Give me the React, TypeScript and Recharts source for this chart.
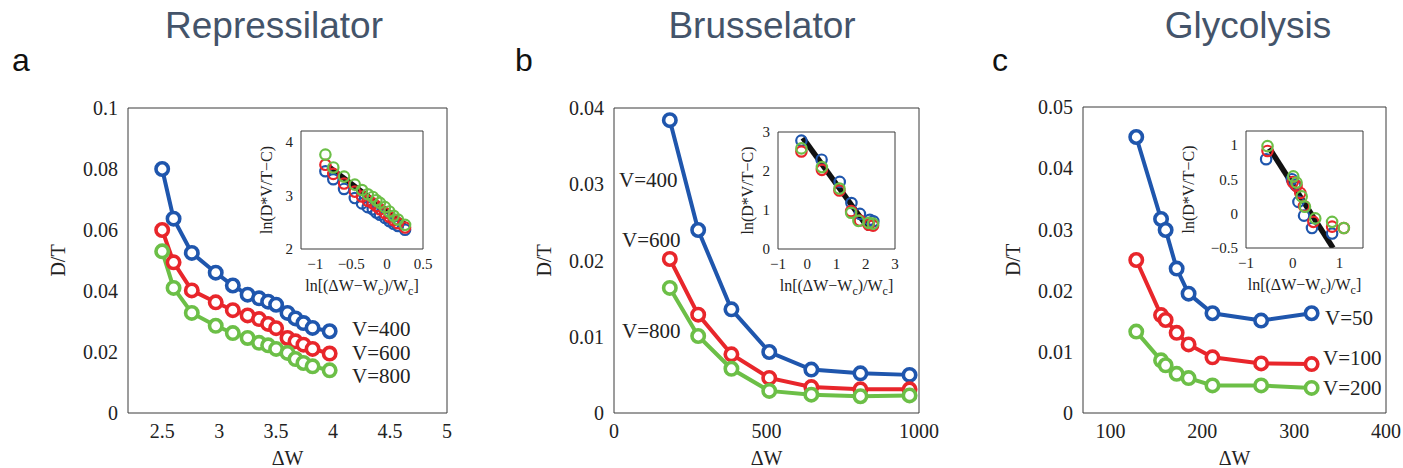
import React from "react";
import { ComposedChart, Line, Scatter, XAxis, YAxis, Label } from "recharts";

const BLUE = "#1f56ad";
const RED = "#e8262b";
const GREEN = "#6cbf47";
const AXIS = "#3a3a3a";
const SERIF = "'Liberation Serif', 'Times New Roman', serif";
const SANS = "'Liberation Sans', Arial, sans-serif";

// a: Repressilator
const repDeltaW = [2.5, 2.6, 2.76, 2.97, 3.12, 3.25, 3.35, 3.43, 3.5, 3.6, 3.67, 3.74, 3.82, 3.97];
const repV400 = [0.08, 0.0637, 0.0525, 0.046, 0.0418, 0.0388, 0.0376, 0.0365, 0.0355, 0.0328, 0.031, 0.0295, 0.0279, 0.0268];
const repV600 = [0.06, 0.0494, 0.0402, 0.0363, 0.0337, 0.032, 0.0308, 0.0292, 0.0278, 0.0246, 0.0235, 0.0224, 0.021, 0.0195];
const repV800 = [0.053, 0.041, 0.0328, 0.0286, 0.0262, 0.0246, 0.023, 0.0222, 0.021, 0.0197, 0.0177, 0.0164, 0.0153, 0.014];
const repLnW = [-0.86, -0.75, -0.6, -0.45, -0.35, -0.27, -0.2, -0.15, -0.1, -0.03, 0.03, 0.09, 0.15, 0.25];
const repLn400 = [3.45, 3.3, 3.12, 2.95, 2.85, 2.78, 2.74, 2.68, 2.64, 2.58, 2.52, 2.47, 2.43, 2.36];
const repLn600 = [3.57, 3.4, 3.22, 3.07, 2.98, 2.9, 2.85, 2.8, 2.74, 2.67, 2.6, 2.54, 2.48, 2.4];
const repLn800 = [3.76, 3.52, 3.35, 3.2, 3.1, 3.02, 2.97, 2.91, 2.86, 2.78, 2.7, 2.62, 2.55, 2.45];
const repFitX = [-0.82, 0.25];
const repFitY = [3.54, 2.46];

// b: Brusselator
const bruDeltaW = [183, 276, 385, 509, 647, 808, 969];
const bruV400 = [0.0384, 0.024, 0.0136, 0.008, 0.0057, 0.0052, 0.005];
const bruV600 = [0.0202, 0.0129, 0.0077, 0.0046, 0.0034, 0.0031, 0.0031];
const bruV800 = [0.0164, 0.0101, 0.0058, 0.0029, 0.0024, 0.0022, 0.0023];
const bruLnW400 = [-0.2, 0.49, 1.11, 1.51, 1.8, 2.14, 2.26];
const bruLnW600 = [-0.2, 0.5, 1.1, 1.5, 1.8, 2.1, 2.25];
const bruLnW800 = [-0.2, 0.5, 1.1, 1.5, 1.75, 2.1, 2.25];
const bruLn400 = [2.78, 2.29, 1.72, 1.18, 0.9, 0.75, 0.71];
const bruLn600 = [2.5, 2.03, 1.5, 0.97, 0.73, 0.62, 0.6];
const bruLn800 = [2.58, 2.1, 1.55, 0.93, 0.72, 0.67, 0.65];
const bruFitX = [-0.15, 2.12];
const bruFitY = [2.85, 0.5];

// c: Glycolysis
const glyDeltaW = [128, 155, 160, 172, 185, 211, 264, 319];
const glyV50 = [0.0451, 0.0317, 0.0299, 0.0236, 0.0195, 0.0163, 0.0151, 0.0163];
const glyV100 = [0.025, 0.016, 0.0152, 0.0131, 0.0112, 0.0091, 0.0081, 0.008];
const glyV200 = [0.0133, 0.0086, 0.0078, 0.0064, 0.0057, 0.0045, 0.0045, 0.0041];
const glyLnW50 = [-0.57, -0.02, 0.05, 0.12, 0.24, 0.41, 0.84];
const glyLn50 = [0.79, 0.5, 0.42, 0.17, -0.03, -0.21, -0.29];
const glyLnW100 = [-0.54, 0, 0.08, 0.16, 0.24, 0.44, 0.84, 1.09];
const glyLn100 = [0.91, 0.46, 0.4, 0.3, 0.11, -0.12, -0.19, -0.21];
const glyLnW200 = [-0.54, 0.01, 0.08, 0.19, 0.26, 0.48, 0.84, 1.09];
const glyLn200 = [0.98, 0.54, 0.45, 0.25, 0.1, -0.07, -0.12, -0.21];
const glyFitX = [-0.5, 0.86];
const glyFitY = [0.95, -0.5];

const titles = ["Repressilator", "Brusselator", "Glycolysis"];
const panelLetters = ["a", "b", "c"];

type Pt = { x: number; y: number };
type Series = { xs: number[]; ys: number[]; color: string };
type Box = { left: number; top: number; width: number; height: number };

const zip = (xs: number[], ys: number[]): Pt[] => xs.map((x, i) => ({ x, y: ys[i] }));
const minus = (v: number) => String(v).replace("-", "\u2212");

// force the serif face on every axis text (overrides presentation attributes)
const css = `
.plot text { font-family: 'Liberation Serif', 'Times New Roman', serif !important; fill: #222; }
.main-plot .recharts-cartesian-axis-tick text { font-size: 20px; }
.inset-plot .recharts-cartesian-axis-tick text { font-size: 15px; }
`;

// box frame with inward ticks on all four sides (MATLAB style)
const frameAxes = (xDomain: number[], xTicks: number[], yDomain: number[], yTicks: number[], tick: number) => [
  <XAxis key="xb" xAxisId="xb" orientation="bottom" mirror type="number" domain={xDomain} allowDataOverflow ticks={xTicks} interval={0} tick={false} tickSize={tick} axisLine={false} tickLine={{ stroke: AXIS }} />,
  <XAxis key="xt" xAxisId="xt" orientation="top" mirror type="number" domain={xDomain} allowDataOverflow ticks={xTicks} interval={0} tick={false} tickSize={tick} axisLine={{ stroke: AXIS }} tickLine={{ stroke: AXIS }} />,
  <YAxis key="yl" yAxisId="yl" orientation="left" mirror type="number" domain={yDomain} allowDataOverflow ticks={yTicks} interval={0} tick={false} tickSize={tick} axisLine={false} tickLine={{ stroke: AXIS }} />,
  <YAxis key="yr" yAxisId="yr" orientation="right" mirror type="number" domain={yDomain} allowDataOverflow ticks={yTicks} interval={0} tick={false} tickSize={tick} axisLine={{ stroke: AXIS }} tickLine={{ stroke: AXIS }} />,
];

const MainPlot = ({ box, xDomain, xTicks, yDomain, yTicks, series }: {
  box: Box; xDomain: number[]; xTicks: number[]; yDomain: number[]; yTicks: number[]; series: Series[];
}) => {
  const padL = 80, padT = 14, padR = 30, padB = 55;
  const tickStyle = { fill: "#222", fontSize: 20, fontFamily: SERIF };
  return (
    <div className="plot main-plot" style={{ position: "absolute", left: box.left - padL, top: box.top - padT, fontFamily: SERIF }}>
      <ComposedChart width={box.width + padL + padR} height={box.height + padT + padB} margin={{ top: padT, right: padR, bottom: 0, left: 0 }}>
        <XAxis xAxisId="x" type="number" dataKey="x" domain={xDomain} allowDataOverflow ticks={xTicks} interval={0} height={padB} tickLine={false} tickSize={0} tickMargin={11} axisLine={{ stroke: AXIS }} tick={tickStyle}>
          <Label content={(p: any) => (
            <text x={p.viewBox.x + p.viewBox.width / 2} y={p.viewBox.y + 52} textAnchor="middle" fontSize={20} fontFamily={SERIF} fill="#222">ΔW</text>
          )} />
        </XAxis>
        <YAxis yAxisId="y" type="number" dataKey="y" domain={yDomain} allowDataOverflow ticks={yTicks} interval={0} width={padL} tickLine={false} tickSize={0} tickMargin={10} axisLine={{ stroke: AXIS }} tick={tickStyle}>
          <Label content={(p: any) => {
            const cx = p.viewBox.x + p.viewBox.width - 70;
            const cy = p.viewBox.y + p.viewBox.height / 2;
            return (
              <text x={cx} y={cy} transform={`rotate(-90, ${cx}, ${cy})`} textAnchor="middle" dominantBaseline="central" fontSize={20} fontFamily={SERIF} fill="#222">D/T</text>
            );
          }} />
        </YAxis>
        {frameAxes(xDomain, xTicks, yDomain, yTicks, 5)}
        {series.map((s, i) => (
          <Line
            key={i}
            xAxisId="x"
            yAxisId="y"
            data={zip(s.xs, s.ys)}
            dataKey="y"
            type="linear"
            stroke={s.color}
            strokeWidth={4}
            isAnimationActive={false}
            dot={(p: any) => <circle key={`d${i}-${p.index}`} cx={p.cx} cy={p.cy} r={6.2} fill="#fff" stroke={s.color} strokeWidth={3.6} />}
          />
        ))}
      </ComposedChart>
    </div>
  );
};

const InsetPlot = ({ box, xDomain, xTicks, yDomain, yTicks, series, fitX, fitY, yLabelDist }: {
  box: Box; xDomain: number[]; xTicks: number[]; yDomain: number[]; yTicks: number[];
  series: Series[]; fitX: number[]; fitY: number[]; yLabelDist: number;
}) => {
  const padL = 70, padT = 12, padR = 14, padB = 50;
  const tickStyle = { fill: "#222", fontSize: 15, fontFamily: SERIF };
  return (
    <div className="plot inset-plot" style={{ position: "absolute", left: box.left - padL, top: box.top - padT, fontFamily: SERIF }}>
      <div style={{ position: "absolute", left: padL, top: padT, width: box.width, height: box.height, background: "#fff" }} />
      <ComposedChart width={box.width + padL + padR} height={box.height + padT + padB} margin={{ top: padT, right: padR, bottom: 0, left: 0 }}>
        <XAxis xAxisId="x" type="number" dataKey="x" domain={xDomain} allowDataOverflow ticks={xTicks} interval={0} height={padB} tickLine={false} tickSize={0} tickMargin={9} axisLine={{ stroke: AXIS }} tick={tickStyle} tickFormatter={minus}>
          <Label content={(p: any) => (
            <text x={p.viewBox.x + p.viewBox.width / 2} y={p.viewBox.y + 42} textAnchor="middle" fontSize={16} fontFamily={SERIF} fill="#222">
              ln[(ΔW−W<tspan dy={4} fontSize={12}>c</tspan><tspan dy={-4}>)/W</tspan><tspan dy={4} fontSize={12}>c</tspan><tspan dy={-4}>]</tspan>
            </text>
          )} />
        </XAxis>
        <YAxis yAxisId="y" type="number" dataKey="y" domain={yDomain} allowDataOverflow ticks={yTicks} interval={0} width={padL} tickLine={false} tickSize={0} tickMargin={8} axisLine={{ stroke: AXIS }} tick={tickStyle} tickFormatter={minus}>
          <Label content={(p: any) => {
            const cx = p.viewBox.x + p.viewBox.width - yLabelDist;
            const cy = p.viewBox.y + p.viewBox.height / 2;
            return (
              <text x={cx} y={cy} transform={`rotate(-90, ${cx}, ${cy})`} textAnchor="middle" dominantBaseline="central" fontSize={16} fontFamily={SERIF} fill="#222">ln(D*V/T−C)</text>
            );
          }} />
        </YAxis>
        {frameAxes(xDomain, xTicks, yDomain, yTicks, 3)}
        {series.map((s, i) => (
          <Scatter
            key={i}
            xAxisId="x"
            yAxisId="y"
            data={zip(s.xs, s.ys)}
            isAnimationActive={false}
            shape={(p: any) => <circle cx={p.cx} cy={p.cy} r={5.2} fill="none" stroke={s.color} strokeWidth={2.2} />}
          />
        ))}
        <Line xAxisId="x" yAxisId="y" data={zip(fitX, fitY)} dataKey="y" type="linear" stroke="#111" strokeWidth={5.5} dot={false} isAnimationActive={false} />
      </ComposedChart>
    </div>
  );
};

export default function App() {
  return (
    <div style={{ position: "absolute", left: 0, top: 0, width: 1403, height: 468, background: "#fff", overflow: "hidden" }}>
      <style>{css}</style>
      <MainPlot
        box={{ left: 128, top: 108, width: 319, height: 305 }}
        xDomain={[2.2, 5]} xTicks={[2.5, 3, 3.5, 4, 4.5, 5]}
        yDomain={[0, 0.1]} yTicks={[0, 0.02, 0.04, 0.06, 0.08, 0.1]}
        series={[
          { xs: repDeltaW, ys: repV400, color: BLUE },
          { xs: repDeltaW, ys: repV600, color: RED },
          { xs: repDeltaW, ys: repV800, color: GREEN },
        ]}
      />
      <InsetPlot
        box={{ left: 301, top: 131, width: 122, height: 118 }}
        xDomain={[-1.2, 0.5]} xTicks={[-1, -0.5, 0, 0.5]}
        yDomain={[2, 4.2]} yTicks={[2, 3, 4]}
        series={[
          { xs: repLnW, ys: repLn400, color: BLUE },
          { xs: repLnW, ys: repLn600, color: RED },
          { xs: repLnW, ys: repLn800, color: GREEN },
        ]}
        fitX={repFitX} fitY={repFitY} yLabelDist={35}
      />

      <MainPlot
        box={{ left: 614, top: 108, width: 305, height: 305 }}
        xDomain={[0, 1000]} xTicks={[0, 500, 1000]}
        yDomain={[0, 0.04]} yTicks={[0, 0.01, 0.02, 0.03, 0.04]}
        series={[
          { xs: bruDeltaW, ys: bruV400, color: BLUE },
          { xs: bruDeltaW, ys: bruV600, color: RED },
          { xs: bruDeltaW, ys: bruV800, color: GREEN },
        ]}
      />
      <InsetPlot
        box={{ left: 778, top: 132, width: 117, height: 117 }}
        xDomain={[-1, 3]} xTicks={[-1, 0, 1, 2, 3]}
        yDomain={[0, 3]} yTicks={[0, 1, 2, 3]}
        series={[
          { xs: bruLnW400, ys: bruLn400, color: BLUE },
          { xs: bruLnW600, ys: bruLn600, color: RED },
          { xs: bruLnW800, ys: bruLn800, color: GREEN },
        ]}
        fitX={bruFitX} fitY={bruFitY} yLabelDist={31}
      />

      <MainPlot
        box={{ left: 1083, top: 107, width: 303, height: 306 }}
        xDomain={[70, 400]} xTicks={[100, 200, 300, 400]}
        yDomain={[0, 0.05]} yTicks={[0, 0.01, 0.02, 0.03, 0.04, 0.05]}
        series={[
          { xs: glyDeltaW, ys: glyV50, color: BLUE },
          { xs: glyDeltaW, ys: glyV100, color: RED },
          { xs: glyDeltaW, ys: glyV200, color: GREEN },
        ]}
      />
      <InsetPlot
        box={{ left: 1246, top: 131, width: 117, height: 117 }}
        xDomain={[-1, 1.5]} xTicks={[-1, 0, 1]}
        yDomain={[-0.5, 1.2]} yTicks={[-0.5, 0, 0.5, 1]}
        series={[
          { xs: glyLnW50, ys: glyLn50, color: BLUE },
          { xs: glyLnW100, ys: glyLn100, color: RED },
          { xs: glyLnW200, ys: glyLn200, color: GREEN },
        ]}
        fitX={glyFitX} fitY={glyFitY} yLabelDist={58}
      />

      <svg width={1403} height={468} style={{ position: "absolute", left: 0, top: 0, pointerEvents: "none" }}>
        <g fontFamily={SANS} fill="#44546a" fontSize={37} textAnchor="middle">
          <text x={274} y={38}>{titles[0]}</text>
          <text x={762} y={38}>{titles[1]}</text>
          <text x={1248} y={38}>{titles[2]}</text>
        </g>
        <g fontFamily={SANS} fill="#111" fontSize={32}>
          <text x={12} y={71}>{panelLetters[0]}</text>
          <text x={515} y={71}>{panelLetters[1]}</text>
          <text x={992} y={71}>{panelLetters[2]}</text>
        </g>
        <g fontFamily={SERIF} fill="#222" fontSize={21}>
          <text x={352} y={336}>V=400</text>
          <text x={352} y={360}>V=600</text>
          <text x={352} y={383}>V=800</text>
          <text x={619} y={187}>V=400</text>
          <text x={622} y={247}>V=600</text>
          <text x={622} y={338}>V=800</text>
          <text x={1325} y={325}>V=50</text>
          <text x={1323} y={365}>V=100</text>
          <text x={1323} y={395}>V=200</text>
        </g>
      </svg>
    </div>
  );
}
